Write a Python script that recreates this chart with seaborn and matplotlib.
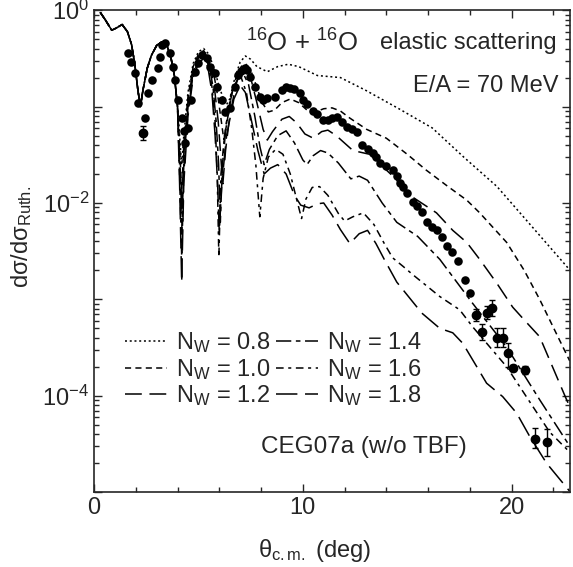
import numpy as np
import pandas as pd
import matplotlib
matplotlib.use("Agg")
import matplotlib.pyplot as plt
from matplotlib.ticker import MultipleLocator, LogLocator, NullFormatter
from matplotlib.lines import Line2D
import seaborn as sns

# ================================================
# DATA
# ================================================
# shared forward-angle part of all six curves
theta_start = [0.3, 0.55, 0.85, 1.05, 1.35, 1.6, 1.8, 1.95, 2.1, 2.22, 2.35, 2.55, 2.75, 3.0, 3.25, 3.5, 3.7, 3.85, 4.0]
sig_start = [0.95, 0.79, 0.62, 0.65, 0.71, 0.60, 0.44, 0.28, 0.15, 0.10, 0.15, 0.25, 0.34, 0.43, 0.47, 0.43, 0.31, 0.21, 0.10]

theta_08 = [4.1, 4.2, 4.3, 4.5, 4.75, 5.0, 5.25, 5.5, 5.75, 6.0, 6.2, 6.35, 6.5, 6.75, 7.0, 7.25, 7.5, 7.8,
            8.3, 8.8, 9.3, 9.8, 10.7, 11.8, 13.0, 14.6, 16.2, 17.7, 19.3, 21.0, 22.8]
sig_08 = [0.050, 0.025, 0.050, 0.14, 0.28, 0.37, 0.40, 0.35, 0.25, 0.16, 0.12, 0.105, 0.12, 0.20, 0.29, 0.335, 0.31, 0.26,
          0.23, 0.26, 0.275, 0.26, 0.21, 0.20, 0.148, 0.095, 0.060, 0.030, 0.0148, 0.0056, 0.0020]

theta_10 = [4.1, 4.2, 4.3, 4.5, 4.75, 5.0, 5.25, 5.5, 5.75, 5.95, 6.1, 6.22, 6.35, 6.55, 6.8, 7.05, 7.25, 7.5, 7.75,
            8.05, 8.35, 8.65, 9.0, 9.4, 9.8, 10.2, 10.6, 11.0, 11.4, 11.8, 12.25, 13.06, 14.0, 15.0, 15.9, 16.9,
            17.85, 18.47, 19.76, 20.6, 21.34, 22.78]
sig_10 = [0.040, 0.0126, 0.040, 0.126, 0.26, 0.35, 0.38, 0.32, 0.21, 0.12, 0.07, 0.045, 0.065, 0.12, 0.20, 0.26, 0.28, 0.24, 0.17,
          0.11, 0.088, 0.092, 0.11, 0.12, 0.11, 0.092, 0.088, 0.095, 0.097, 0.090, 0.076, 0.058, 0.047, 0.032, 0.022, 0.0151,
          0.0107, 0.0079, 0.0039, 0.0020, 0.0010, 2.3e-4]

theta_12 = [4.1, 4.2, 4.3, 4.5, 4.75, 5.0, 5.25, 5.5, 5.75, 5.95, 6.1, 6.17, 6.3, 6.5, 6.8, 7.05, 7.25, 7.5, 7.8,
            8.1, 8.3, 8.55, 9.0, 9.35, 9.7, 10.1, 10.5, 10.9, 11.2, 11.6, 12.4, 13.2, 14.2, 15.26, 16.4, 17.18,
            17.85, 18.47, 19.28, 20.05, 20.7, 21.34, 22.63, 22.8]
sig_12 = [0.032, 0.0079, 0.032, 0.112, 0.24, 0.33, 0.36, 0.30, 0.17, 0.07, 0.025, 0.0158, 0.035, 0.08, 0.17, 0.24, 0.25, 0.20, 0.11,
          0.058, 0.045, 0.055, 0.074, 0.079, 0.068, 0.052, 0.047, 0.055, 0.057, 0.050, 0.035, 0.032, 0.020, 0.0115, 0.0079, 0.0052,
          0.0039, 0.0026, 0.00148, 8.3e-4, 5.8e-4, 4.1e-4, 9.1e-5, 7.6e-5]

theta_14 = [4.1, 4.2, 4.3, 4.5, 4.75, 5.0, 5.25, 5.5, 5.7, 5.85, 5.97, 6.05, 6.15, 6.35, 6.65, 6.95, 7.15, 7.4, 7.7,
            7.95, 8.15, 8.4, 8.8, 9.2, 9.6, 10.0, 10.2, 10.5, 10.85, 11.2, 11.7, 12.3, 12.7, 13.1, 13.8, 14.5,
            15.5, 16.56, 18.13, 19.76, 21.34, 22.78]
sig_14 = [0.025, 0.0050, 0.025, 0.10, 0.23, 0.32, 0.35, 0.28, 0.16, 0.07, 0.025, 0.0063, 0.025, 0.07, 0.15, 0.21, 0.22, 0.17, 0.08,
          0.038, 0.025, 0.036, 0.050, 0.056, 0.042, 0.028, 0.025, 0.031, 0.035, 0.033, 0.026, 0.0178, 0.019, 0.0172, 0.010, 0.0063,
          0.0045, 0.0026, 9.1e-4, 3.2e-4, 9.1e-5, 3.0e-5]

theta_16 = [4.1, 4.2, 4.3, 4.5, 4.75, 5.0, 5.25, 5.45, 5.65, 5.8, 5.9, 5.98, 6.08, 6.25, 6.55, 6.85, 7.05, 7.3, 7.55,
            7.75, 7.94, 8.1, 8.35, 8.7, 9.05, 9.4, 9.7, 9.94, 10.15, 10.45, 10.8, 11.2, 11.7, 12.0, 12.4, 12.9,
            13.4, 13.9, 14.3, 14.8, 15.3, 16.56, 17.51, 18.13, 19.76, 21.82, 22.78]
sig_16 = [0.020, 0.0028, 0.020, 0.089, 0.22, 0.30, 0.33, 0.28, 0.16, 0.07, 0.020, 0.00275, 0.020, 0.05, 0.13, 0.19, 0.20, 0.14, 0.06,
          0.025, 0.0072, 0.018, 0.030, 0.036, 0.032, 0.020, 0.011, 0.0069, 0.011, 0.0145, 0.0148, 0.012, 0.0078, 0.0065, 0.0072, 0.0079,
          0.0060, 0.0038, 0.0027, 0.0022, 0.00178, 0.00107, 7.8e-4, 5.2e-4, 2.0e-4, 4.2e-5, 2.6e-5]

theta_18 = [4.1, 4.2, 4.3, 4.5, 4.75, 5.0, 5.25, 5.45, 5.65, 5.8, 5.92, 6.0, 6.12, 6.35, 6.7, 7.0, 7.25, 7.55, 7.85,
            8.15, 8.45, 8.8, 9.2, 9.6, 9.9, 10.3, 10.7, 11.0, 11.4, 11.8, 12.25, 12.7, 13.1, 13.5, 13.9, 14.5,
            15.7, 16.56, 17.18, 17.66, 18.33, 18.8, 19.57, 20.24, 20.86, 21.67, 22.78]
sig_18 = [0.0158, 0.0015, 0.0158, 0.079, 0.20, 0.28, 0.316, 0.26, 0.14, 0.05, 0.0158, 0.0050, 0.0158, 0.05, 0.12, 0.166, 0.14, 0.07, 0.035,
          0.020, 0.023, 0.025, 0.020, 0.012, 0.0095, 0.0089, 0.0098, 0.010, 0.0075, 0.0053, 0.0038, 0.0048, 0.0052, 0.0038, 0.0026, 0.00151,
          7.2e-4, 5.0e-4, 4.5e-4, 3.5e-4, 2.0e-4, 1.35e-4, 9.8e-5, 6.6e-5, 3.8e-5, 2.0e-5, 1.02e-5]

# measured cross sections
theta_exp = [1.63, 1.77, 1.96, 2.11, 2.34, 2.44, 2.58, 2.78, 3.06, 3.16, 3.25, 3.40, 3.64, 3.78, 3.88, 4.02, 4.21, 4.30,
             4.35, 4.50, 4.64, 4.83, 4.98, 5.17, 5.41, 5.55, 5.79, 5.89, 6.12, 6.27, 6.51, 6.75, 6.89, 7.05, 7.22, 7.35,
             7.46, 7.70, 7.94, 8.10, 8.28, 8.66, 8.99, 9.20, 9.38, 9.60, 9.86, 10.0, 10.2, 10.48, 10.7, 10.96, 11.2, 11.4,
             11.63, 11.9, 12.11, 12.35, 12.58, 12.82, 13.1, 13.35, 13.5, 13.68, 14.0, 14.31, 14.5, 14.64, 14.8, 14.98,
             15.26, 15.45, 15.69, 15.93, 16.2, 16.41, 16.65, 16.89, 17.13, 17.42, 17.75, 17.99]
sig_exp = [0.358, 0.289, 0.222, 0.109, 0.053, 0.076, 0.138, 0.188, 0.251, 0.326, 0.434, 0.455, 0.358, 0.257, 0.188, 0.117, 0.076, 0.056,
           0.042, 0.060, 0.117, 0.228, 0.283, 0.342, 0.318, 0.257, 0.222, 0.159, 0.117, 0.088, 0.096, 0.159, 0.212, 0.234, 0.251, 0.240,
           0.202, 0.159, 0.125, 0.117, 0.122, 0.125, 0.148, 0.158, 0.156, 0.151, 0.138, 0.117, 0.107, 0.091, 0.083, 0.072, 0.072, 0.076,
           0.078, 0.069, 0.062, 0.058, 0.054, 0.040, 0.036, 0.033, 0.030, 0.026, 0.024, 0.022, 0.019, 0.0162, 0.0145, 0.0126,
           0.0102, 0.0093, 0.0081, 0.0063, 0.0056, 0.0052, 0.0044, 0.0036, 0.0031, 0.0025, 0.00158, 0.00117]

# points with visible error bars (value, lower end, upper end)
theta_err = [2.34, 18.28, 18.56, 18.80, 19.04, 19.28, 19.57, 19.81, 20.05, 20.62, 21.10, 21.67]
sig_err = [0.053, 6.9e-4, 4.6e-4, 7.2e-4, 8.1e-4, 4.0e-4, 4.0e-4, 2.8e-4, 1.95e-4, 1.86e-4, 3.6e-5, 3.3e-5]
sig_err_lo = [0.045, 6.0e-4, 3.8e-4, 6.2e-4, 6.8e-4, 3.2e-4, 3.2e-4, 2.0e-4, 1.8e-4, 1.7e-4, 2.9e-5, 2.4e-5]
sig_err_hi = [0.063, 8.0e-4, 5.5e-4, 8.5e-4, 9.8e-4, 5.0e-4, 5.0e-4, 3.5e-4, 2.1e-4, 2.05e-4, 4.6e-5, 4.5e-5]

nw_labels = ["0.8", "1.0", "1.2", "1.4", "1.6", "1.8"]

# ================================================
# BUILD TABLE
# ================================================
curves = {"0.8": (theta_08, sig_08), "1.0": (theta_10, sig_10), "1.2": (theta_12, sig_12),
          "1.4": (theta_14, sig_14), "1.6": (theta_16, sig_16), "1.8": (theta_18, sig_18)}
rows = []
for nw, (th, sg) in curves.items():
    for t, s in zip(theta_start + th, sig_start + sg):
        rows.append({"theta": t, "sigma": s, "nw": nw})
df = pd.DataFrame(rows)
df_exp = pd.DataFrame({"theta": theta_exp, "sigma": sig_exp})

# ================================================
# PLOT
# ================================================
sns.set_style("ticks")
plt.rcParams['font.family'] = ['Liberation Sans', 'DejaVu Sans']
plt.rcParams['mathtext.fontset'] = 'custom'
plt.rcParams['mathtext.rm'] = 'Liberation Sans'
plt.rcParams['mathtext.it'] = 'Liberation Sans'
plt.rcParams['mathtext.default'] = 'regular'

dash_styles = {"0.8": (1.3, 1.8), "1.0": (4, 2.8), "1.2": (11, 5), "1.4": (10, 3, 3, 3),
               "1.6": (5, 3, 2, 3), "1.8": (14, 5)}

fig = plt.figure(figsize=(5.73, 5.67), dpi=100)
ax = fig.add_axes([0.164, 0.132, 0.831, 0.850])

sns.lineplot(data=df, x="theta", y="sigma", hue="nw", style="nw", palette=["black"] * 6,
             dashes=dash_styles, estimator=None, sort=False, linewidth=1.1, legend=False, ax=ax)

sns.scatterplot(data=df_exp, x="theta", y="sigma", color="black", s=38, edgecolor="black",
                linewidth=0, zorder=5, ax=ax)
yerr = [np.array(sig_err) - np.array(sig_err_lo), np.array(sig_err_hi) - np.array(sig_err)]
ax.errorbar(theta_err, sig_err, yerr=yerr, fmt="o", color="black", ms=6.0, capsize=2.5,
            elinewidth=1.0, capthick=1.0, zorder=5)

ax.set_yscale("log")
ax.set_xlim(0, 22.8)
ax.set_ylim(1e-5, 1)

ax.xaxis.set_major_locator(MultipleLocator(10))
ax.xaxis.set_minor_locator(MultipleLocator(2))
ax.set_yticks([1e-5, 1e-4, 1e-3, 1e-2, 1e-1, 1])
ax.set_yticklabels(["", "$10^{-4}$", "", "$10^{-2}$", "", "$10^{0}$"])
ax.yaxis.set_minor_locator(LogLocator(base=10, subs=np.arange(2, 10), numticks=20))
ax.yaxis.set_minor_formatter(NullFormatter())
ax.tick_params(which="both", direction="in", top=True, right=True, labelsize=17, width=1.0)
ax.tick_params(which="major", length=6)
ax.tick_params(which="minor", length=3.5)
for sp in ax.spines.values():
    sp.set_linewidth(1.2)

ax.set_xlabel(r"θ$_{\mathrm{c.m.}}$ (deg)", fontsize=17)
ax.xaxis.set_label_coords(0.464, -0.094)
ax.set_ylabel(r"dσ/dσ$_{\mathrm{Ruth.}}$", fontsize=17)
ax.yaxis.set_label_coords(-0.125, 0.53)

ax.text(0.555, 0.931, r"$^{16}$O + $^{16}$O", transform=ax.transAxes,
        ha="right", va="center", fontsize=18.5)
ax.text(0.601, 0.931, "elastic scattering", transform=ax.transAxes,
        ha="left", va="center", fontsize=17)
ax.text(0.975, 0.842, "E/A = 70 MeV", transform=ax.transAxes, ha="right", va="center", fontsize=17)
ax.text(0.567, 0.093, "CEG07a (w/o TBF)", transform=ax.transAxes, ha="center", va="center", fontsize=17.5)

handles = [Line2D([], [], color="black", lw=1.1, dashes=dash_styles[nw]) for nw in nw_labels]
labels = [r"N$_{\mathrm{W}}$ = " + nw for nw in nw_labels]
ax.legend(handles, labels, ncol=2, frameon=False, fontsize=17, loc="upper left",
          bbox_to_anchor=(0.04, 0.36), handlelength=1.8, handletextpad=0.35,
          columnspacing=0.25, labelspacing=0.06, borderpad=0.0)

plt.savefig("out.png", dpi=100)
